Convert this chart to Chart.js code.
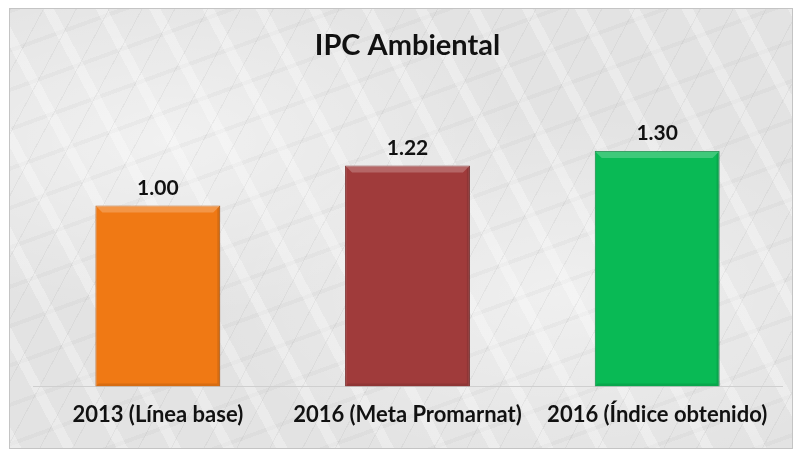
<!DOCTYPE html>
<html>
<head>
<meta charset="utf-8">
<script src="https://cdn.jsdelivr.net/npm/chart.js@4/dist/chart.umd.min.js"></script>
<style>
  html, body { margin:0; padding:0; background:#fff; }
  #frame {
    position:absolute; left:9px; top:8px; width:784px; height:441px;
    box-sizing:border-box; border:1px solid #c4c4c4;
    background:
      repeating-linear-gradient(118deg, rgba(110,110,110,0.08) 0 1px, transparent 1px 29px),
      repeating-linear-gradient(62deg, rgba(255,255,255,0.30) 0 10px, transparent 10px 47px),
      repeating-linear-gradient(160deg, rgba(130,130,130,0.06) 0 4px, transparent 4px 37px),
      radial-gradient(ellipse at 20% 30%, rgba(255,255,255,0.5), transparent 40%),
      radial-gradient(ellipse at 70% 65%, rgba(255,255,255,0.45), transparent 45%),
      #e3e3e3;
  }
  #chart { display:block; }
</style>
</head>
<body>
<div id="frame"><canvas id="chart" width="782" height="439"></canvas></div>
<script>
  // data
  const categories = ['2013 (Línea base)', '2016 (Meta Promarnat)', '2016 (Índice obtenido)'];
  const values = [1.00, 1.22, 1.30];
  const barColors = ['#f07914', '#a03b3b', '#09ba55'];
  const edgeColors = ['#b85a0c', '#7a2a2a', '#07853c'];

  const fontFam = 'Lato, "Open Sans", sans-serif';

  // value label above each bar
  const valueLabels = {
    id:'valueLabels',
    afterDatasetsDraw(chart){
      const ctx = chart.ctx;
      const meta = chart.getDatasetMeta(0);
      ctx.save();
      ctx.font = 'bold 21px ' + fontFam;
      ctx.fillStyle = '#111';
      ctx.textAlign = 'center';
      ctx.textBaseline = 'bottom';
      meta.data.forEach((bar, i) => {
        ctx.fillText(values[i].toFixed(2), bar.x, bar.y - 7);
      });
      ctx.restore();
    }
  };

  // little bevel on the bars
  const bevel = {
    id:'bevel',
    afterDatasetsDraw(chart){
      const ctx = chart.ctx;
      const meta = chart.getDatasetMeta(0);
      const b = 7;
      ctx.save();
      meta.data.forEach(bar => {
        const l = bar.x - bar.width/2, r = bar.x + bar.width/2, t = bar.y, btm = bar.base;
        ctx.fillStyle = 'rgba(255,255,255,0.22)';
        ctx.beginPath(); ctx.moveTo(l,t); ctx.lineTo(r,t); ctx.lineTo(r-b,t+b); ctx.lineTo(l+b,t+b); ctx.closePath(); ctx.fill();
        ctx.fillStyle = 'rgba(0,0,0,0.10)';
        ctx.beginPath(); ctx.moveTo(r,t); ctx.lineTo(r,btm); ctx.lineTo(r-3,btm-3); ctx.lineTo(r-3,t+3); ctx.closePath(); ctx.fill();
        ctx.beginPath(); ctx.moveTo(l,btm); ctx.lineTo(r,btm); ctx.lineTo(r-3,btm-3); ctx.lineTo(l+3,btm-3); ctx.closePath(); ctx.fill();
      });
      ctx.restore();
    }
  };

  new Chart(document.getElementById('chart'), {
    type:'bar',
    data:{
      labels: categories,
      datasets:[{
        data: values,
        backgroundColor: barColors,
        borderColor: edgeColors,
        borderWidth: 1,
        categoryPercentage: 1.0,
        barPercentage: 0.5
      }]
    },
    options:{
      responsive:false,
      animation:false,
      layout:{ padding:{ left:23, right:10, top:0, bottom:5 } },
      plugins:{
        legend:{ display:false },
        tooltip:{ enabled:false },
        title:{
          display:true,
          text:'IPC Ambiental',
          color:'#111',
          font:{ family:fontFam, size:29, weight:'bold' },
          padding:{ top:19, bottom:52 }
        }
      },
      scales:{
        x:{
          grid:{ display:false, drawTicks:false },
          border:{ display:true, color:'#cfcfcf', width:1 },
          ticks:{ color:'#111', padding:15, font:{ family:fontFam, size:22, weight:'bold' } }
        },
        y:{
          display:false,
          min:0, max:1.5
        }
      }
    },
    plugins:[valueLabels, bevel]
  });
</script>
</body>
</html>
